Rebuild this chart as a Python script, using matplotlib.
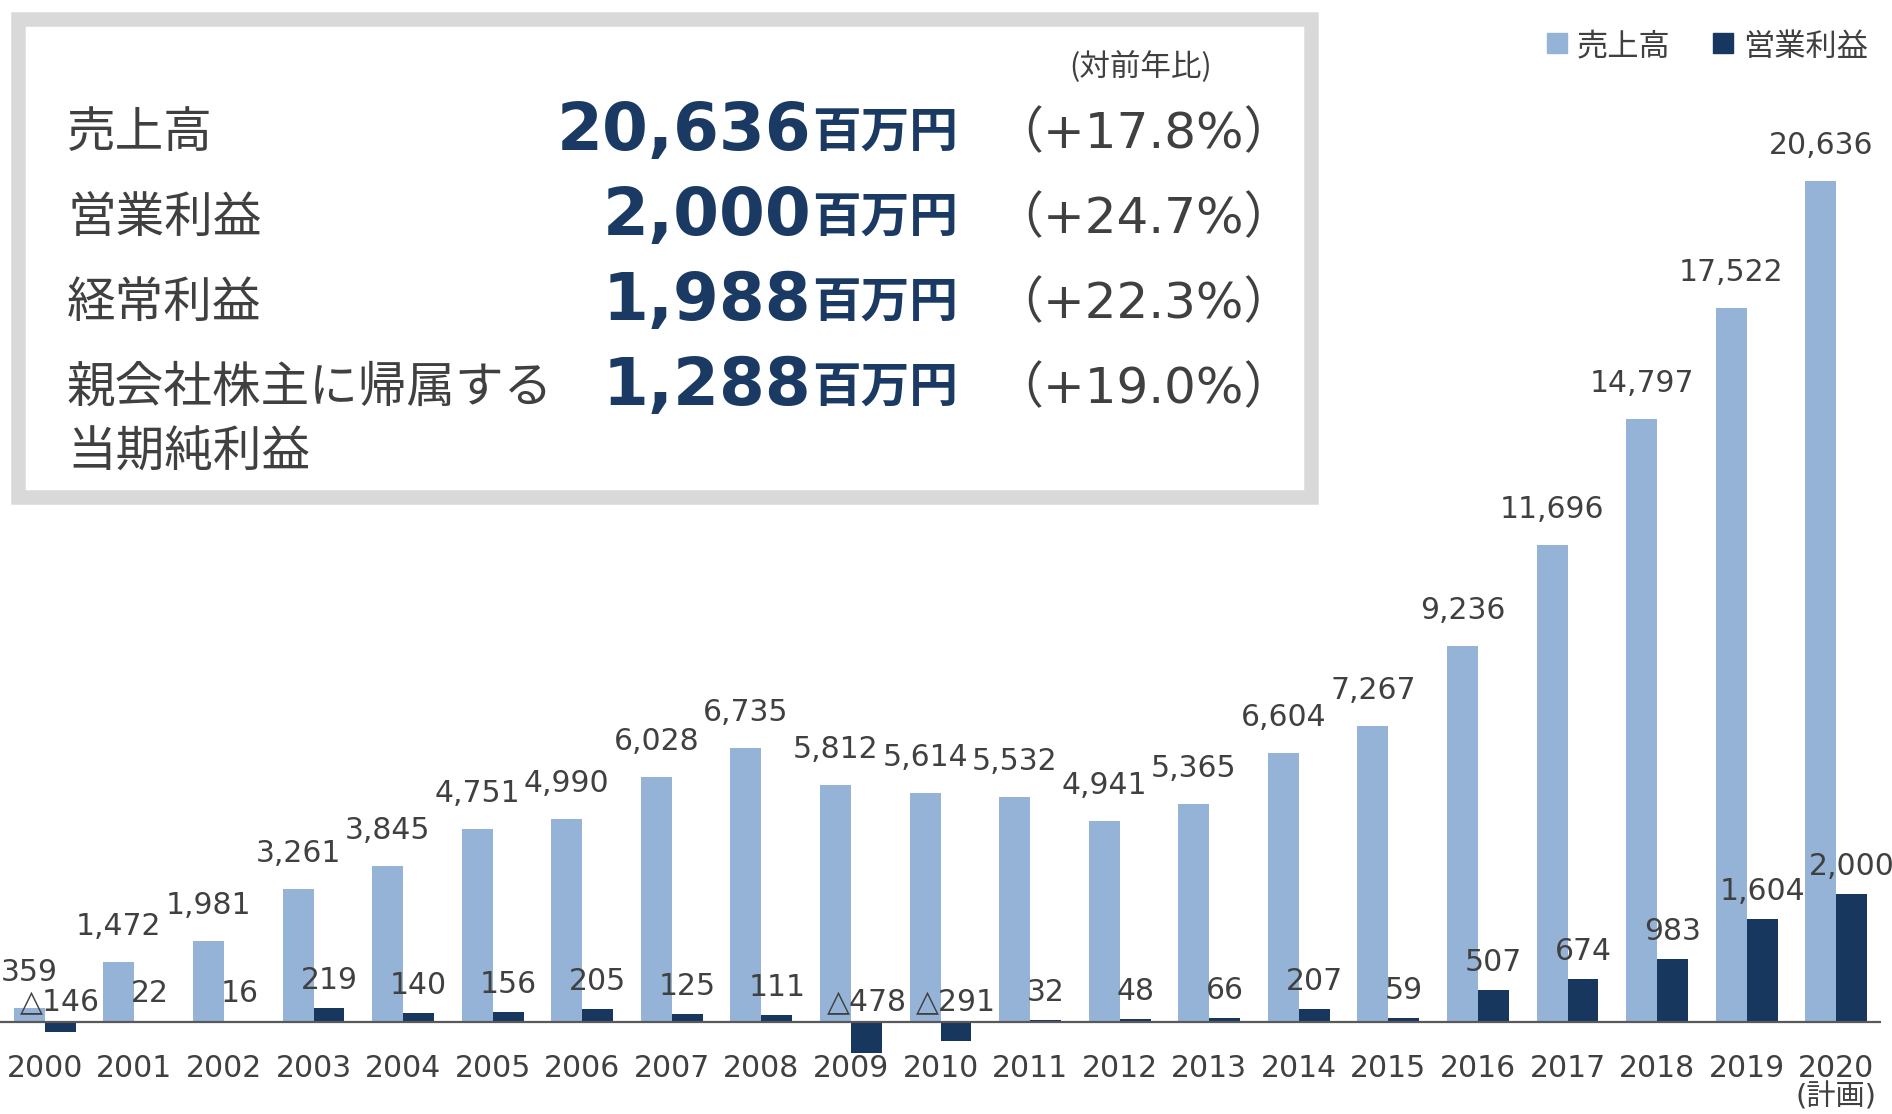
import numpy as np
import matplotlib
matplotlib.use('Agg')
import matplotlib.pyplot as plt
from matplotlib.patches import Rectangle

# data
years = ['2000', '2001', '2002', '2003', '2004', '2005', '2006', '2007', '2008', '2009', '2010',
         '2011', '2012', '2013', '2014', '2015', '2016', '2017', '2018', '2019', '2020']
sales = [359, 1472, 1981, 3261, 3845, 4751, 4990, 6028, 6735, 5812, 5614,
         5532, 4941, 5365, 6604, 7267, 9236, 11696, 14797, 17522, 20636]
op_profit = [-146, 22, 16, 219, 140, 156, 205, 125, 111, -478, -291,
             32, 48, 66, 207, 59, 507, 674, 983, 1604, 2000]

summary_names = ['売上高', '営業利益', '経常利益', '親会社株主に帰属する']
summary_values = ['20,636', '2,000', '1,988', '1,288']
summary_growth = ['（+17.8%）', '（+24.7%）', '（+22.3%）', '（+19.0%）']

SALES_C = '#95B3D7'
OP_C = '#17375E'
NUM_C = '#1B3A63'
TXT_C = '#404040'
JP = 'Noto Sans CJK JP'
MIX = ['DejaVu Sans', 'Noto Sans CJK JP']

W, H = 1892, 1114
PT = 0.72  # points per pixel at dpi 100


def fx(x):
    return x / W


def fy(y):
    return 1 - y / H


fig = plt.figure(figsize=(W / 100, H / 100), dpi=100)

# chart area
ax = fig.add_axes([0, fy(1063), fx(1881), (1063 - 125.5) / H])
ax2 = ax.twinx()
x = np.arange(len(years))
w = 0.346

ax.bar(x - w / 2, sales, w, color=SALES_C)
ax2.bar(x + w / 2, op_profit, w, color=OP_C)
ax.set_xlim(-0.5, len(years) - 0.5)
ax.set_ylim(-1000, 22000)
ax2.set_ylim(-1000 * 14000 / 22000, 14000)
ax2.axhline(0, color='#595959', lw=1.6, zorder=5)

for a in (ax, ax2):
    for s in a.spines.values():
        s.set_visible(False)
    a.set_xticks([])
    a.set_yticks([])

for xi, v in zip(x, sales):
    ax.annotate(f'{v:,}', xy=(xi - w / 2, v), xytext=(0, 27 * PT), textcoords='offset points',
                ha='center', va='baseline', fontsize=21.5, color=TXT_C, family=MIX)

for xi, v in zip(x, op_profit):
    if v < 0:
        lab, top, dy = '△' + f'{-v:,}', 0, 12
    else:
        lab, top, dy = f'{v:,}', v, 19
    ax2.annotate(lab, xy=(xi + w / 2, top), xytext=(0, dy * PT), textcoords='offset points',
                 ha='center', va='baseline', fontsize=21.5, color=TXT_C, family=MIX)

for xi, yr in zip(x, years):
    ax.annotate(yr, xy=(xi, 0), xytext=(0, -55 * PT), textcoords='offset points',
                ha='center', va='baseline', fontsize=21.5, color=TXT_C, family=MIX)
ax.annotate('(計画)', xy=(x[-1], 0), xytext=(0, -83 * PT), textcoords='offset points',
            ha='center', va='baseline', fontsize=21, color=TXT_C, family=MIX)

# legend
fig.add_artist(Rectangle((fx(1547), fy(53)), 20 / W, 20 / H, color=SALES_C, transform=fig.transFigure))
fig.text(fx(1577), fy(56), '売上高', fontsize=22.5, color=TXT_C, family=JP, va='baseline')
fig.add_artist(Rectangle((fx(1713), fy(53)), 20 / W, 20 / H, color=OP_C, transform=fig.transFigure))
fig.text(fx(1743), fy(56), '営業利益', fontsize=22.5, color=TXT_C, family=JP, va='baseline')

# summary box
fig.add_artist(Rectangle((fx(17.5), fy(497)), (1310.5 - 17.5) / W, (497 - 19) / H,
                         facecolor='white', edgecolor='#D9D9D9', lw=14.5 * PT,
                         transform=fig.transFigure, zorder=10))
fig.text(fx(1141), fy(76), '(対前年比)', fontsize=22, color=TXT_C, family=JP,
         ha='center', va='baseline', zorder=11)

baselines = [147, 232, 317, 402]
for name, val, gr, b in zip(summary_names, summary_values, summary_growth, baselines):
    fig.text(fx(67), fy(b), name, fontsize=35, color=TXT_C, family=JP, va='baseline', zorder=11)
    fig.text(fx(811), fy(b + 3), val, fontsize=47.5, color=NUM_C, family='DejaVu Sans',
             weight='bold', ha='right', va='baseline', zorder=11)
    fig.text(fx(812), fy(b + 1), '百万円', fontsize=35, color=NUM_C, family=JP,
             weight='bold', va='baseline', zorder=11)
    fig.text(fx(1143), fy(b + 1), gr, fontsize=36, color=TXT_C, family=MIX,
             ha='center', va='baseline', zorder=11)
fig.text(fx(67), fy(467), '当期純利益', fontsize=35, color=TXT_C, family=JP, va='baseline', zorder=11)

fig.savefig('out.png', dpi=100)
